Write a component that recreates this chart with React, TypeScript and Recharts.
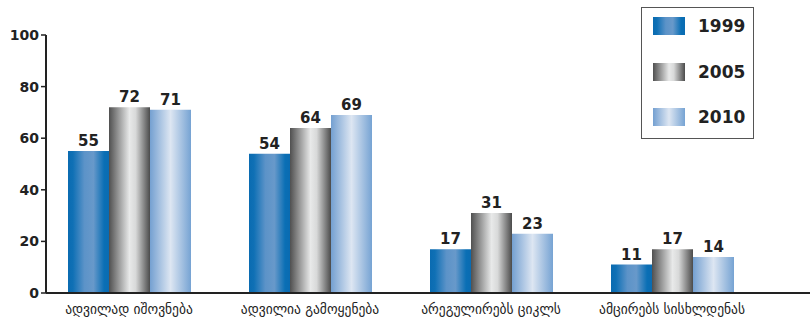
import { Bar, BarChart, LabelList, XAxis, YAxis } from "recharts";

const categories = ["ადვილად იშოვნება", "ადვილია გამოყენება", "არეგულირებს ციკლს", "ამცირებს სისხლდენას"];
const years = ["1999", "2005", "2010"];
const v1999 = [55, 54, 17, 11];
const v2005 = [72, 64, 31, 17];
const v2010 = [71, 69, 23, 14];
const yTicks = [0, 20, 40, 60, 80, 100];

const data = categories.map((name, i) => ({ name, y1999: v1999[i], y2005: v2005[i], y2010: v2010[i] }));

const fills = ["url(#g1999)", "url(#g2005)", "url(#g2010)"];
const keys = ["y1999", "y2005", "y2010"];
const ink = "#222";
const font = "DejaVu Sans, Verdana, sans-serif";

function Legend() {
  return (
    <div
      style={{
        position: "absolute",
        left: 641,
        top: 7,
        width: 111,
        height: 130,
        border: "1.5px solid #555",
        fontFamily: font,
      }}
    >
      {years.map((y, i) => (
        <div key={y} style={{ position: "absolute", left: 11, top: 8 + i * 45.5, display: "flex", alignItems: "center" }}>
          <svg width={32} height={18}>
            <rect width={32} height={18} fill={fills[i]} />
          </svg>
          <span style={{ marginLeft: 13, fontSize: 17, fontWeight: "bold", color: ink }}>{y}</span>
        </div>
      ))}
    </div>
  );
}

export default function App() {
  return (
    <div style={{ position: "absolute", left: 0, top: 0, width: 810, height: 323, background: "#fff" }}>
      <svg width={0} height={0} style={{ position: "absolute" }}>
        <defs>
          <linearGradient id="g1999" x1="0" y1="0" x2="1" y2="0">
            <stop offset="0" stopColor="#0a6bb1" />
            <stop offset="0.12" stopColor="#0f70b5" />
            <stop offset="0.4" stopColor="#5c93c8" />
            <stop offset="0.62" stopColor="#6899ca" />
            <stop offset="0.88" stopColor="#0a6fb5" />
            <stop offset="1" stopColor="#0a6bb1" />
          </linearGradient>
          <linearGradient id="g2005" x1="0" y1="0" x2="1" y2="0">
            <stop offset="0" stopColor="#505050" />
            <stop offset="0.5" stopColor="#e8e9e9" />
            <stop offset="0.65" stopColor="#d8d9d9" />
            <stop offset="1" stopColor="#4b4b4b" />
          </linearGradient>
          <linearGradient id="g2010" x1="0" y1="0" x2="1" y2="0">
            <stop offset="0" stopColor="#74a0d1" />
            <stop offset="0.5" stopColor="#dde6f2" />
            <stop offset="1" stopColor="#76a3d3" />
          </linearGradient>
        </defs>
      </svg>
      <BarChart
        width={810}
        height={323}
        data={data}
        margin={{ top: 35, right: 0, left: 0, bottom: 0 }}
        barCategoryGap={29.5}
        barGap={0}
      >
        <YAxis
          domain={[0, 100]}
          ticks={yTicks}
          width={46}
          axisLine={{ stroke: ink, strokeWidth: 2 }}
          tickLine={{ stroke: ink, strokeWidth: 1.5 }}
          tickSize={5}
          tick={{ fontSize: 14, fontWeight: "bold", fill: ink, fontFamily: font }}
        />
        <XAxis
          dataKey="name"
          height={30}
          padding={{ left: -7.5, right: 47.5 }}
          axisLine={{ stroke: ink, strokeWidth: 2 }}
          tickLine={false}
          tickMargin={5}
          tick={{ fontSize: 13.5, fill: ink, fontFamily: font }}
        />
        {keys.map((k, i) => (
          <Bar key={k} dataKey={k} fill={fills[i]} isAnimationActive={false}>
            <LabelList
              dataKey={k}
              position="top"
              offset={5}
              style={{ fontSize: 15, fontWeight: "bold", fill: ink, fontFamily: font }}
            />
          </Bar>
        ))}
      </BarChart>
      <Legend />
    </div>
  );
}
